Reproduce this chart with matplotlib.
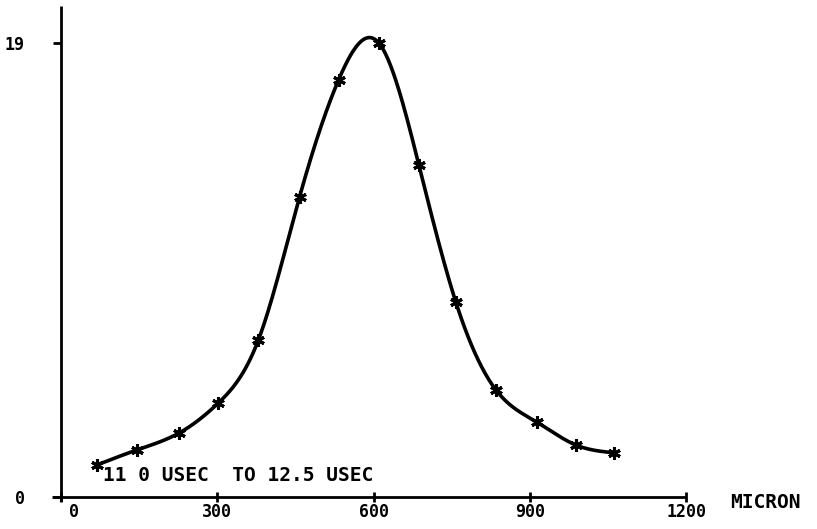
import numpy as np
import matplotlib
matplotlib.use("Agg")
import matplotlib.pyplot as plt
from matplotlib.transforms import ScaledTranslation

# distance (micron) and signal measured between 11.0 and 12.5 usec
micron = [69, 146, 227, 302, 379, 458, 533, 610, 687, 758, 835, 913, 988, 1062]
signal = [1.34, 1.97, 2.68, 3.93, 6.57, 12.55, 17.45, 19.0, 13.9, 8.16, 4.48, 3.14, 2.18, 1.85]

xticks = [0, 300, 600, 900, 1200]
xticklabels = ['0', '300', '600', '900', '1200']
yticks = [0, 19]
yticklabels = ['0', '19']
label_text = '11 0 USEC  TO 12.5 USEC'

FONT = 'DejaVu Sans Mono'


def natural_spline(x, y, n=600):
    # natural cubic spline through the measured points
    x = np.asarray(x, float)
    y = np.asarray(y, float)
    k = len(x)
    h = np.diff(x)
    A = np.zeros((k, k))
    r = np.zeros(k)
    A[0, 0] = A[-1, -1] = 1
    for i in range(1, k - 1):
        A[i, i - 1] = h[i - 1]
        A[i, i] = 2 * (h[i - 1] + h[i])
        A[i, i + 1] = h[i]
        r[i] = 3 * ((y[i + 1] - y[i]) / h[i] - (y[i] - y[i - 1]) / h[i - 1])
    c = np.linalg.solve(A, r)
    b = (y[1:] - y[:-1]) / h - h * (2 * c[:-1] + c[1:]) / 3
    d = (c[1:] - c[:-1]) / (3 * h)
    xs = np.linspace(x[0], x[-1], n)
    idx = np.clip(np.searchsorted(x, xs) - 1, 0, k - 2)
    t = xs - x[idx]
    ys = y[idx] + b[idx] * t + c[idx] * t ** 2 + d[idx] * t ** 3
    return xs, ys


fig = plt.figure(figsize=(8.17, 5.29), dpi=100)
ax = fig.add_axes([61 / 817, 32 / 529, 625 / 817, 491 / 529])
ax.set_xlim(0, 1200)
ax.set_ylim(0, 20.54)
for s in ax.spines.values():
    s.set_visible(False)

# axis lines, drawn by hand so the x axis runs a little past the origin
ax.plot([-17, 1200], [0, 0], color='black', lw=2.0, clip_on=False, solid_capstyle='butt')
ax.plot([0, 0], [-0.15, 20.54], color='black', lw=2.0, clip_on=False, solid_capstyle='butt')

xs, ys = natural_spline(micron, signal)
ax.plot(xs, ys, color='black', lw=2.6, solid_capstyle='round')
ax.plot(micron, signal, linestyle='none', marker=(6, 2, 0), markersize=9,
        markeredgewidth=2.2, color='black')

ax.set_xticks(xticks)
ax.set_xticklabels(xticklabels, family=FONT, fontweight='bold', fontsize=12)
ax.tick_params(axis='x', direction='inout', length=7, width=2, pad=1)
ax.set_yticks(yticks)
ax.set_yticklabels(yticklabels, family=FONT, fontweight='bold', fontsize=12)
ax.tick_params(axis='y', direction='out', length=6, width=2, pad=20)

# the origin label sits a bit right of the axis
lab0 = ax.get_xticklabels()[0]
lab0.set_transform(lab0.get_transform() + ScaledTranslation(0.13, 0, fig.dpi_scale_trans))

ax.text(1285, -0.25, 'MICRON', family=FONT, fontweight='bold', fontsize=14,
        ha='left', va='center', clip_on=False)
ax.text(81, 0.92, label_text, family=FONT, fontweight='bold', fontsize=14,
        ha='left', va='center')

fig.savefig('out.png', dpi=100, facecolor='white')
